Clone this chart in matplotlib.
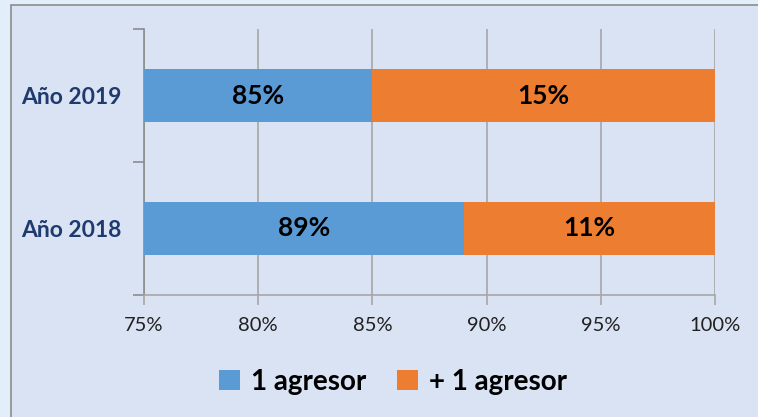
import matplotlib.pyplot as plt
from matplotlib.patches import Rectangle
from matplotlib.ticker import FuncFormatter

# datos
anios = ['Año 2018', 'Año 2019']
un_agresor = [89, 85]
mas_agresor = [11, 15]
ticks = [75, 80, 85, 90, 95, 100]

plt.rcParams['font.family'] = ['Lato', 'DejaVu Sans']

fig = plt.figure(figsize=(7.58, 4.17), dpi=100)
fig.patch.set_facecolor('#e2eefa')

# marco del gráfico
W, H = 758, 417
fig.patches.append(Rectangle((11 / W, -0.05), 1.0, 1 - 5 / H + 0.05,
                             transform=fig.transFigure, facecolor='#dae3f3',
                             edgecolor='#8c8c8c', linewidth=1.2, zorder=-1))

ax = fig.add_axes([144 / W, 1 - 295 / H, (715 - 144) / W, (295 - 29) / H])
ax.set_facecolor('none')

y = [0, 1]
ax.barh(y, un_agresor, height=0.4, color='#5b9bd5', zorder=3, label='1 agresor')
ax.barh(y, mas_agresor, left=un_agresor, height=0.4, color='#ed7d31', zorder=3,
        label='+ 1 agresor')

for i in y:
    ax.text((75 + un_agresor[i]) / 2, i, f'{un_agresor[i]}%', ha='center', va='center',
            fontsize=19, fontweight='bold', color='black', zorder=4)
    ax.text(un_agresor[i] + mas_agresor[i] / 2, i, f'{mas_agresor[i]}%', ha='center',
            va='center', fontsize=19, fontweight='bold', color='black', zorder=4)

ax.set_xlim(75, 100)
ax.set_ylim(-0.5, 1.5)
ax.set_xticks(ticks)
ax.xaxis.set_major_formatter(FuncFormatter(lambda v, p: f'{v:.0f}%'))
ax.set_yticks(y)
ax.set_yticklabels(anios)
ax.set_yticks([-0.5, 0.5, 1.5], minor=True)
ax.tick_params(axis='y', which='major', length=0, pad=16, labelsize=16.5,
               labelcolor='#1f3a6e')
for t in ax.get_yticklabels():
    t.set_fontweight('bold')
ax.tick_params(axis='y', which='minor', length=8, color='#8c8c8c', width=1.2)
ax.tick_params(axis='x', length=7, color='#a6a6a6', width=1.2, labelsize=14.5,
               pad=9, labelcolor='#202020')
ax.grid(axis='x', color='#a6a6a6', linewidth=1.2, zorder=1)

for s in ['top', 'right']:
    ax.spines[s].set_visible(False)
ax.spines['left'].set_color('#8c8c8c')
ax.spines['left'].set_linewidth(1.2)
ax.spines['bottom'].set_color('#a6a6a6')
ax.spines['bottom'].set_linewidth(1.2)

leg = fig.legend(loc='center', bbox_to_anchor=(393 / W, 1 - 382 / H), ncol=2,
                 frameon=False, handlelength=0.75, handleheight=0.75,
                 handletextpad=0.4, columnspacing=1.1,
                 prop={'size': 20, 'weight': 'bold'})

fig.savefig('out.png', dpi=100, facecolor=fig.get_facecolor())
